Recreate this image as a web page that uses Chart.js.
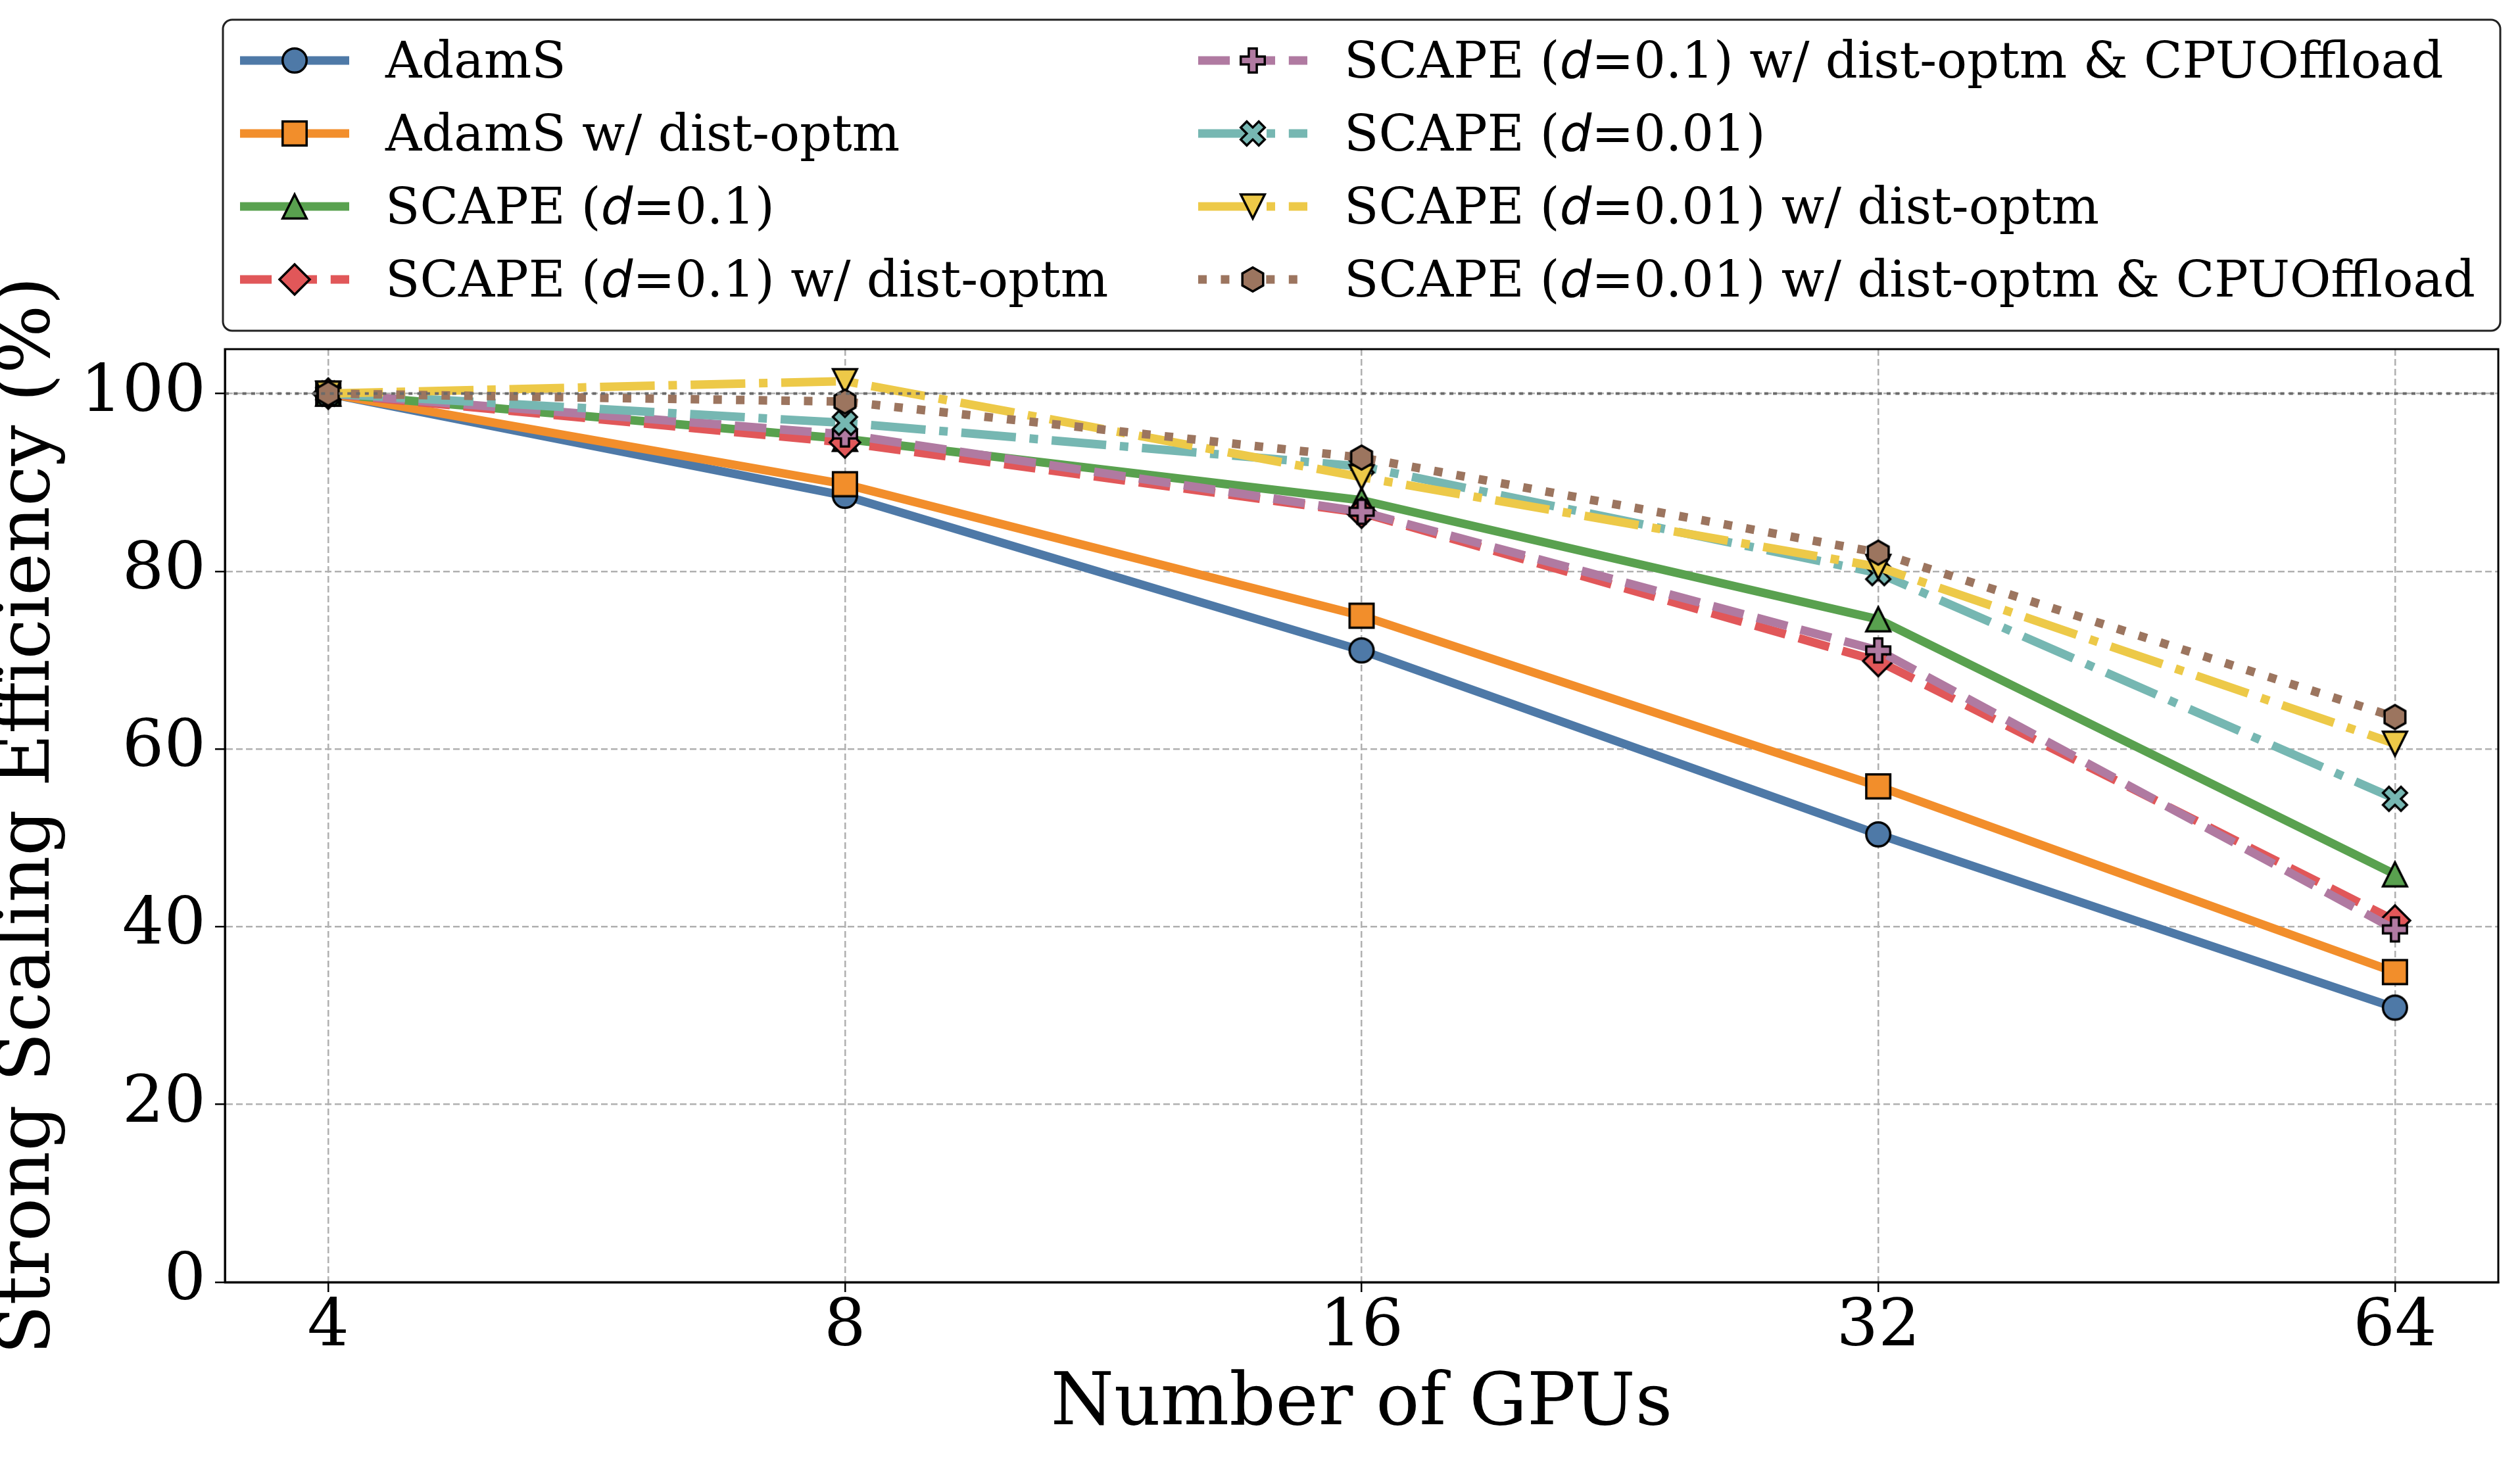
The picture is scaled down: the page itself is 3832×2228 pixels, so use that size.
<!DOCTYPE html>
<html>
<head>
<meta charset="utf-8">
<script src="https://cdn.jsdelivr.net/npm/chart.js@4.4.1/dist/chart.umd.min.js"></script>
<style>html,body{margin:0;padding:0;background:#fff}canvas{display:block}</style>
</head>
<body>
<canvas id="c" width="3832" height="2228"></canvas>
<script>
// ---------------- data ----------------
const gpuCounts = [4, 8, 16, 32, 64];
const xTickLabels = ['4', '8', '16', '32', '64'];
const yTickValues = [0, 20, 40, 60, 80, 100];
const referenceLevel = 100;

const adamS            = [100, 88.5, 71.1, 50.4, 30.9];
const adamSDist        = [100, 89.8, 75.0, 55.8, 34.9];
const scape01          = [100, 94.9, 88.0, 74.6, 45.9];
const scape01Dist      = [100, 94.5, 86.6, 69.9, 40.7];
const scape01DistCpu   = [100, 95.4, 86.7, 71.1, 39.7];
const scape001         = [100, 96.7, 91.8, 79.8, 54.4];
const scape001Dist     = [100, 101.4, 90.6, 80.5, 60.6];
const scape001DistCpu  = [100, 99.1, 92.8, 82.1, 63.6];

const seriesLabels = [
  'AdamS',
  'AdamS w/ dist-optm',
  'SCAPE (*d*=0.1)',
  'SCAPE (*d*=0.1) w/ dist-optm',
  'SCAPE (*d*=0.1) w/ dist-optm & CPUOffload',
  'SCAPE (*d*=0.01)',
  'SCAPE (*d*=0.01) w/ dist-optm',
  'SCAPE (*d*=0.01) w/ dist-optm & CPUOffload'
];
const seriesValues = [adamS, adamSDist, scape01, scape01Dist, scape01DistCpu, scape001, scape001Dist, scape001DistCpu];

// ---------------- styles ----------------
const LW = 13;
const colors = ['#4e79a7', '#f28e2b', '#59a14f', '#e15759', '#b07aa1', '#76b7b2', '#edc948', '#9c755f'];
const dashes = {
  solid: [],
  dashed: [3.7 * LW, 1.6 * LW],
  dashdot: [6.4 * LW, 1.6 * LW, 1 * LW, 1.6 * LW],
  dotted: [1 * LW, 1.65 * LW]
};
const lineStyles = ['solid', 'solid', 'solid', 'dashed', 'dashed', 'dashdot', 'dashdot', 'dotted'];
const markerShapes = ['circle', 'square', 'triUp', 'diamond', 'plus', 'xfill', 'triDown', 'hexagon'];

function makeMarker(shape, fill) {
  const S = 72;
  const cv = document.createElement('canvas');
  cv.width = S; cv.height = S;
  const c = cv.getContext('2d');
  c.translate(S / 2, S / 2);
  const h = 18.25;
  c.beginPath();
  const poly = pts => { pts.forEach((p, i) => i ? c.lineTo(p[0], p[1]) : c.moveTo(p[0], p[1])); c.closePath(); };
  if (shape === 'circle') {
    c.arc(0, 0, h, 0, Math.PI * 2);
  } else if (shape === 'square') {
    c.rect(-h, -h, 2 * h, 2 * h);
  } else if (shape === 'triUp') {
    poly([[0, -h], [h, h], [-h, h]]);
  } else if (shape === 'triDown') {
    poly([[0, h], [-h, -h], [h, -h]]);
  } else if (shape === 'diamond') {
    const d = 23;
    poly([[0, -d], [d, 0], [0, d], [-d, 0]]);
  } else if (shape === 'plus') {
    const u = h / 3;
    poly([[-u, -3 * u], [u, -3 * u], [u, -u], [3 * u, -u], [3 * u, u], [u, u], [u, 3 * u], [-u, 3 * u], [-u, u], [-3 * u, u], [-3 * u, -u], [-u, -u]]);
  } else if (shape === 'xfill') {
    const u = h / 2;
    poly([[-u, -2 * u], [0, -u], [u, -2 * u], [2 * u, -u], [u, 0], [2 * u, u], [u, 2 * u], [0, u], [-u, 2 * u], [-2 * u, u], [-u, 0], [-2 * u, -u]]);
  } else if (shape === 'hexagon') {
    const pts = [];
    for (let k = 0; k < 6; k++) {
      const a = -Math.PI / 2 + k * Math.PI / 3;
      pts.push([h * Math.cos(a), h * Math.sin(a)]);
    }
    poly(pts);
  }
  c.fillStyle = fill;
  c.fill();
  c.lineWidth = 3.5;
  c.lineJoin = 'miter';
  c.strokeStyle = '#000';
  c.stroke();
  return cv;
}
const markers = markerShapes.map((s, i) => makeMarker(s, colors[i]));

const datasets = seriesValues.map((vals, i) => ({
  label: seriesLabels[i].replace(/\*/g, ''),
  data: vals.map((v, j) => ({ x: gpuCounts[j], y: v })),
  borderColor: colors[i],
  backgroundColor: colors[i],
  borderWidth: LW,
  borderDash: dashes[lineStyles[i]],
  borderCapStyle: 'butt',
  borderJoinStyle: 'round',
  pointStyle: markers[i],
  pointRadius: 20,
  pointHoverRadius: 20,
  tension: 0,
  fill: false,
  order: seriesValues.length - i
}));

// --------------- plugins ---------------
const frameAndRefLine = {
  id: 'frameAndRefLine',
  afterDatasetsDraw(chart) {
    const { ctx, chartArea: a, scales: { y } } = chart;
    const yy = y.getPixelForValue(referenceLevel);
    ctx.save();
    ctx.strokeStyle = '#6a6a6a';
    ctx.lineWidth = 4;
    ctx.setLineDash([6, 7.3]);
    ctx.beginPath();
    ctx.moveTo(a.left, yy);
    ctx.lineTo(a.right, yy);
    ctx.stroke();
    ctx.restore();
  },
  afterDraw(chart) {
    const { ctx, chartArea: a } = chart;
    ctx.save();
    ctx.strokeStyle = '#000';
    ctx.lineWidth = 3;
    ctx.setLineDash([]);
    ctx.strokeRect(a.left, a.top, a.right - a.left, a.bottom - a.top);
    ctx.restore();
  }
};

function drawRichText(ctx, text, x, y, size) {
  const parts = text.split('*');
  let cx = x;
  parts.forEach((p, k) => {
    if (!p) return;
    ctx.font = (k % 2 ? 'italic ' + size + 'px "DejaVu Sans"' : size + 'px "DejaVu Serif"');
    ctx.fillText(p, cx, y);
    cx += ctx.measureText(p).width;
  });
}

const customLegend = {
  id: 'customLegend',
  afterDraw(chart) {
    const { ctx } = chart;
    ctx.save();
    // frame
    const bx = 339, by = 30, bw = 3802 - 339, bh = 503 - 30;
    ctx.beginPath();
    ctx.roundRect(bx, by, bw, bh, 14);
    ctx.fillStyle = 'rgba(255,255,255,0.9)';
    ctx.fill();
    ctx.lineWidth = 3;
    ctx.strokeStyle = '#222';
    ctx.stroke();

    const cols = [{ hx: 365, tx: 586 }, { hx: 1822, tx: 2044 }];
    const handleLen = 166;
    chart.data.datasets.forEach((ds, i) => {
      const col = cols[Math.floor(i / 4)];
      const row = i % 4;
      const cy = 92 + row * 111;
      ctx.save();
      ctx.strokeStyle = ds.borderColor;
      ctx.lineWidth = LW;
      ctx.lineCap = 'butt';
      ctx.setLineDash(ds.borderDash);
      ctx.beginPath();
      ctx.moveTo(col.hx, cy);
      ctx.lineTo(col.hx + handleLen, cy);
      ctx.stroke();
      ctx.restore();
      const m = ds.pointStyle;
      ctx.drawImage(m, col.hx + handleLen / 2 - m.width / 2, cy - m.height / 2);
      ctx.fillStyle = '#000';
      ctx.textBaseline = 'alphabetic';
      ctx.textAlign = 'left';
      drawRichText(ctx, seriesLabels[i], col.tx, cy + 26, 76.5);
    });
    ctx.restore();
  }
};

// --------------- chart ---------------
const tickFont = { family: 'DejaVu Serif', size: 100, lineHeight: 1 };
const titleFont = { family: 'DejaVu Serif', size: 110, lineHeight: 0.8 };

new Chart(document.getElementById('c'), {
  type: 'line',
  data: { datasets },
  options: {
    responsive: false,
    devicePixelRatio: 1,
    animation: false,
    events: [],
    layout: { padding: { top: 531, right: 33, left: 0, bottom: 0 } },
    plugins: { legend: { display: false }, tooltip: { enabled: false }, title: { display: false } },
    scales: {
      x: {
        type: 'logarithmic',
        min: gpuCounts[0] / Math.pow(2, 0.2),
        max: gpuCounts[gpuCounts.length - 1] * Math.pow(2, 0.2),
        afterBuildTicks: axis => { axis.ticks = gpuCounts.map(v => ({ value: v, major: false })); },
        afterFit: scale => { scale.height = 278; },
        ticks: {
          autoSkip: false, maxRotation: 0, minRotation: 0,
          color: '#000', font: tickFont, padding: 5,
          callback: (v) => xTickLabels[gpuCounts.indexOf(v)]
        },
        grid: { color: '#b0b0b0', lineWidth: 2.5, tickLength: 15, tickWidth: 2.5, tickColor: '#000', tickBorderDash: [20, 0], borderDash: [10, 5] },
        border: { display: true, color: '#000', width: 3, dash: [10, 5] },
        title: { display: true, text: 'Number of GPUs', color: '#000', font: titleFont, padding: { top: 0, bottom: 47 } }
      },
      y: {
        type: 'linear',
        min: 0,
        max: 105,
        afterBuildTicks: axis => { axis.ticks = yTickValues.map(v => ({ value: v })); },
        afterFit: scale => { scale.width = 342; },
        ticks: { color: '#000', font: tickFont, padding: 14, callback: v => String(v) },
        grid: { color: '#b0b0b0', lineWidth: 2.5, tickLength: 15, tickWidth: 2.5, tickColor: '#000', tickBorderDash: [20, 0], borderDash: [10, 5] },
        border: { display: true, color: '#000', width: 3, dash: [10, 5] },
        title: { display: true, text: 'Strong Scaling Efficiency (%)', color: '#000', font: titleFont, padding: { top: 1, bottom: 0 } }
      }
    }
  },
  plugins: [frameAndRefLine, customLegend]
});
</script>
</body>
</html>
